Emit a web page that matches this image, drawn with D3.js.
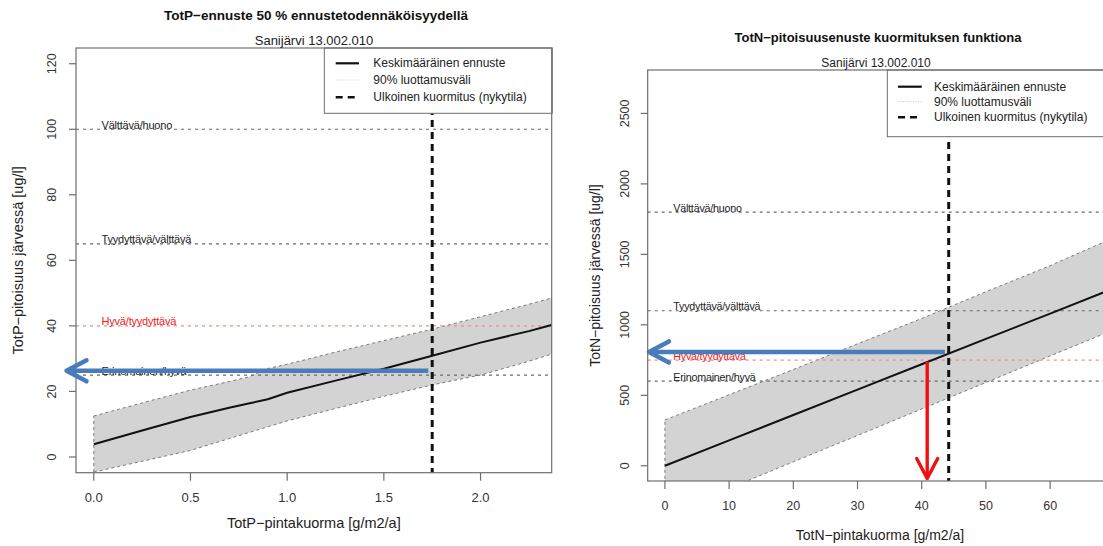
<!DOCTYPE html>
<html><head><meta charset="utf-8">
<script src="https://cdn.jsdelivr.net/npm/d3@7"></script>
<style>
html,body{margin:0;padding:0;background:#fff;}
svg{display:block;font-family:"Liberation Sans",Arial,Helvetica,sans-serif;}
</style></head>
<body><svg id="c" width="1103" height="546"></svg>
<script>
// ---------- data: TotP panel ----------
const pLoad  = [0, 0.25, 0.5, 0.7, 0.8, 0.9, 1.0, 1.25, 1.5, 1.75, 2.0, 2.25, 2.4];
const pMean  = [3.9, 8.1, 12.2, 15.0, 16.3, 17.6, 19.6, 23.3, 26.9, 30.9, 34.9, 38.4, 40.8];
const pUpper = [12.5, 16.5, 20.4, 23.0, 24.4, 27.0, 28.3, 32.0, 35.5, 39.0, 42.8, 46.6, 49.0];
const pLower = [-4.6, -1.3, 2.0, 5.6, 7.4, 9.2, 11.0, 14.8, 18.5, 22.0, 25.0, 29.2, 32.0];
const pXTicks = [0, 0.5, 1.0, 1.5, 2.0];
const pXTickLabels = ["0.0", "0.5", "1.0", "1.5", "2.0"];
const pYTicks = [0, 20, 40, 60, 80, 100, 120];
const pClassValues = [25, 40, 65, 100];
const pClassLabels = ["Erinomainen/hyvä", "Hyvä/tyydyttävä", "Tyydyttävä/välttävä", "Välttävä/huono"];
const pCurrentLoad = 1.75;
const pArrowBlue = {y: 26.3, from: 1.73, to: -0.141};

// ---------- data: TotN panel ----------
const nLoad  = [0, 10, 20, 30, 40, 50, 60, 70];
const nMean  = [0, 180, 360, 540, 720, 900, 1080, 1260];
const nUpper = [325, 504, 683, 865, 1045, 1235, 1420, 1620];
const nLower = [-348, -160, 28, 215, 403, 591, 779, 967];
const nXTicks = [0, 10, 20, 30, 40, 50, 60];
const nXTickLabels = ["0", "10", "20", "30", "40", "50", "60"];
const nYTicks = [0, 500, 1000, 1500, 2000, 2500];
const nClassValues = [600, 750, 1100, 1800];
const nClassLabels = ["Erinomainen/hyvä", "Hyvä/tyydyttävä", "Tyydyttävä/välttävä", "Välttävä/huono"];
const nCurrentLoad = 44.2;
const nArrowBlue = {y: 808, from: 43.6, to: -2.49};
const nArrowRed = {x: 40.85, from: 739, to: -90};

const legendLabels = ["Keskimääräinen ennuste", "90% luottamusväli", "Ulkoinen kuormitus (nykytila)"];
const subtitle = "Sanijärvi 13.002.010";

const svg = d3.select("#c");
const BLUE = "#4a7bbd", RED = "#f01010", AX = "#6e6e6e", TXT = "#222";

const panels = [
  {id:"p", title:"TotP\u2212ennuste 50 % ennustetodennäköisyydellä", titleX:316, titleY:15, titleSize:13.5,
   subY:40, subSize:13, xTitle:"TotP\u2212pintakuorma [g/m2/a]", yTitle:"TotP\u2212pitoisuus järvessä [ug/l]",
   xDom:[-0.092, 2.368], xR:[76, 551.7], yDom:[-4.8, 124.8], yR:[472.7, 48],
   load:pLoad, mean:pMean, upper:pUpper, lower:pLower,
   xTicks:pXTicks, xTickLabels:pXTickLabels, yTicks:pYTicks,
   cls:pClassValues, clsLab:pClassLabels, clsLabX:0.04, cur:pCurrentLoad,
   xTickSize:13, yTickSize:12.5, titleAxSize:14.5, xTickY:497.5, xTitleY:523, yTickX:51.7, yTitleX:18,
   labSize:11, leg:{x0:324.3, y0:48, x1:552.3, y1:113.3, lx0:335.7, lx1:359, tx:373.3, rows:[63.3,80,97.3]},
   blue:pArrowBlue, red:null},
  {id:"n", title:"TotN\u2212pitoisuusenuste kuormituksen funktiona", titleX:878, titleY:37, titleSize:13,
   subY:63.3, subSize:12, xTitle:"TotN\u2212pintakuorma [g/m2/a]", yTitle:"TotN\u2212pitoisuus järvessä [ug/l]",
   xDom:[-2.68, 69.68], xR:[647.7, 1112.3], yDom:[-108, 2808], yR:[481, 70],
   load:nLoad, mean:nMean, upper:nUpper, lower:nLower,
   xTicks:nXTicks, xTickLabels:nXTickLabels, yTicks:nYTicks,
   cls:nClassValues, clsLab:nClassLabels, clsLabX:1.3, cur:nCurrentLoad,
   xTickSize:12.5, yTickSize:12.5, titleAxSize:14, xTickY:506, xTitleY:535, yTickX:625, yTitleX:595,
   labSize:10.7, leg:{x0:887.3, y0:70, x1:1120, y1:136.7, lx0:898, lx1:921.7, tx:934, rows:[86.7,101.7,117.3]},
   blue:nArrowBlue, red:nArrowRed}
];

function arrowHead(g, tipX, tipY, dir, color, w) {
  // dir: "left" or "down"; open V head
  const L = 20, H = 10.5;
  let pts;
  if (dir === "left") pts = [[tipX + L, tipY - H], [tipX, tipY], [tipX + L, tipY + H]];
  else pts = [[tipX - H, tipY - L], [tipX, tipY], [tipX + H, tipY - L]];
  g.append("path").attr("d", d3.line()(pts)).attr("fill", "none")
    .attr("stroke", color).attr("stroke-width", w).attr("stroke-linecap", "round").attr("stroke-linejoin", "round");
}

panels.forEach(P => {
  const x = d3.scaleLinear().domain(P.xDom).range(P.xR);
  const y = d3.scaleLinear().domain(P.yDom).range(P.yR);
  const g = svg.append("g");
  const clipId = "clip-" + P.id;
  g.append("clipPath").attr("id", clipId).append("rect")
    .attr("x", P.xR[0]).attr("y", P.yR[1]).attr("width", P.xR[1] - P.xR[0]).attr("height", P.yR[0] - P.yR[1]);
  const pg = g.append("g").attr("clip-path", `url(#${clipId})`);
  const rows = P.load.map((l, i) => ({l, m: P.mean[i], u: P.upper[i], lo: P.lower[i]}));

  // confidence band
  pg.append("path").datum(rows)
    .attr("d", d3.area().x(d => x(d.l)).y0(d => y(d.lo)).y1(d => y(d.u)))
    .attr("fill", "#d3d3d3").attr("stroke", "none");
  const bandLine = key => d3.line().x(d => x(d.l)).y(d => y(d[key]));
  ["u", "lo"].forEach(k => pg.append("path").datum(rows).attr("d", bandLine(k))
    .attr("fill", "none").attr("stroke", "#7a7a7a").attr("stroke-width", 1).attr("stroke-dasharray", "3,3"));
  pg.append("line").attr("x1", x(P.load[0])).attr("x2", x(P.load[0]))
    .attr("y1", y(P.lower[0])).attr("y2", y(P.upper[0]))
    .attr("stroke", "#7a7a7a").attr("stroke-width", 1).attr("stroke-dasharray", "3,3");

  // class boundary lines
  P.cls.forEach((v, i) => {
    const isRed = i === 1;
    pg.append("line").attr("x1", P.xR[0]).attr("x2", P.xR[1]).attr("y1", y(v)).attr("y2", y(v))
      .attr("stroke", isRed ? "#f08a8a" : "#6a6a6a").attr("stroke-width", 1.2).attr("stroke-dasharray", "3,4");
    g.append("text").attr("x", x(P.clsLabX)).attr("y", y(v) - 0.5)
      .attr("font-size", P.labSize).attr("fill", isRed ? "#f01818" : TXT).attr("letter-spacing", -0.2)
      .text(P.clsLab[i]);
  });

  // mean line
  pg.append("path").datum(rows).attr("d", bandLine("m"))
    .attr("fill", "none").attr("stroke", "#111").attr("stroke-width", 2);

  // current load vertical dashed line
  pg.append("line").attr("x1", x(P.cur)).attr("x2", x(P.cur)).attr("y1", P.yR[1]).attr("y2", P.yR[0])
    .attr("stroke", "#111").attr("stroke-width", 3).attr("stroke-dasharray", "7,5");

  // legend
  const L = P.leg;
  g.append("rect").attr("x", L.x0).attr("y", L.y0).attr("width", L.x1 - L.x0).attr("height", L.y1 - L.y0)
    .attr("fill", "#fff").attr("stroke", AX).attr("stroke-width", 1);
  const legStyles = [
    {c:"#111", w:2.2, d:null},
    {c:"#c8c8c8", w:1, d:"1,1.5"},
    {c:"#111", w:2.6, d:"7,5"}
  ];
  legendLabels.forEach((t, i) => {
    const s = legStyles[i];
    const ln = g.append("line").attr("x1", L.lx0).attr("x2", L.lx1).attr("y1", L.rows[i]).attr("y2", L.rows[i])
      .attr("stroke", s.c).attr("stroke-width", s.w);
    if (s.d) ln.attr("stroke-dasharray", s.d);
    g.append("text").attr("x", L.tx).attr("y", L.rows[i]).attr("dominant-baseline", "central")
      .attr("font-size", 12).attr("fill", TXT).text(t);
  });

  // box
  g.append("rect").attr("x", P.xR[0]).attr("y", P.yR[1]).attr("width", P.xR[1] - P.xR[0]).attr("height", P.yR[0] - P.yR[1])
    .attr("fill", "none").attr("stroke", AX).attr("stroke-width", 1.2);

  // x axis ticks
  P.xTicks.forEach((v, i) => {
    g.append("line").attr("x1", x(v)).attr("x2", x(v)).attr("y1", P.yR[0]).attr("y2", P.yR[0] + 8)
      .attr("stroke", AX).attr("stroke-width", 1.2);
    g.append("text").attr("x", x(v)).attr("y", P.xTickY).attr("text-anchor", "middle").attr("dominant-baseline", "central")
      .attr("font-size", P.xTickSize).attr("fill", "#333").text(P.xTickLabels[i]);
  });
  // y axis ticks
  P.yTicks.forEach(v => {
    g.append("line").attr("x1", P.xR[0] - 7).attr("x2", P.xR[0]).attr("y1", y(v)).attr("y2", y(v))
      .attr("stroke", AX).attr("stroke-width", 1.2);
    g.append("text").attr("transform", `translate(${P.yTickX},${y(v)}) rotate(-90)`)
      .attr("text-anchor", "middle").attr("dominant-baseline", "central")
      .attr("font-size", P.yTickSize).attr("fill", "#333").text(v);
  });

  // titles
  const cx = (P.xR[0] + Math.min(P.xR[1], 1112.3)) / 2;
  g.append("text").attr("x", P.titleX).attr("y", P.titleY).attr("text-anchor", "middle").attr("dominant-baseline", "central")
    .attr("font-size", P.titleSize).attr("font-weight", "bold").attr("fill", "#111").text(P.title);
  g.append("text").attr("x", P.titleX - 2).attr("y", P.subY).attr("text-anchor", "middle").attr("dominant-baseline", "central")
    .attr("font-size", P.subSize).attr("fill", TXT).text(subtitle);
  g.append("text").attr("x", cx).attr("y", P.xTitleY).attr("text-anchor", "middle").attr("dominant-baseline", "central")
    .attr("font-size", P.titleAxSize).attr("fill", TXT).text(P.xTitle);
  g.append("text").attr("transform", `translate(${P.yTitleX},${(P.yR[0] + P.yR[1]) / 2}) rotate(-90)`)
    .attr("text-anchor", "middle").attr("dominant-baseline", "central")
    .attr("font-size", P.titleAxSize).attr("fill", TXT).text(P.yTitle);

  // annotation arrows
  const B = P.blue;
  g.append("line").attr("x1", x(B.from)).attr("x2", x(B.to) + 2).attr("y1", y(B.y)).attr("y2", y(B.y))
    .attr("stroke", BLUE).attr("stroke-width", 4.5);
  arrowHead(g, x(B.to), y(B.y), "left", BLUE, 4.5);
  if (P.red) {
    const R = P.red;
    g.append("line").attr("x1", x(R.x)).attr("x2", x(R.x)).attr("y1", y(R.from)).attr("y2", y(R.to) - 2)
      .attr("stroke", RED).attr("stroke-width", 3.4);
    arrowHead(g, x(R.x), y(R.to), "down", RED, 3.4);
  }
});
</script></body></html>
